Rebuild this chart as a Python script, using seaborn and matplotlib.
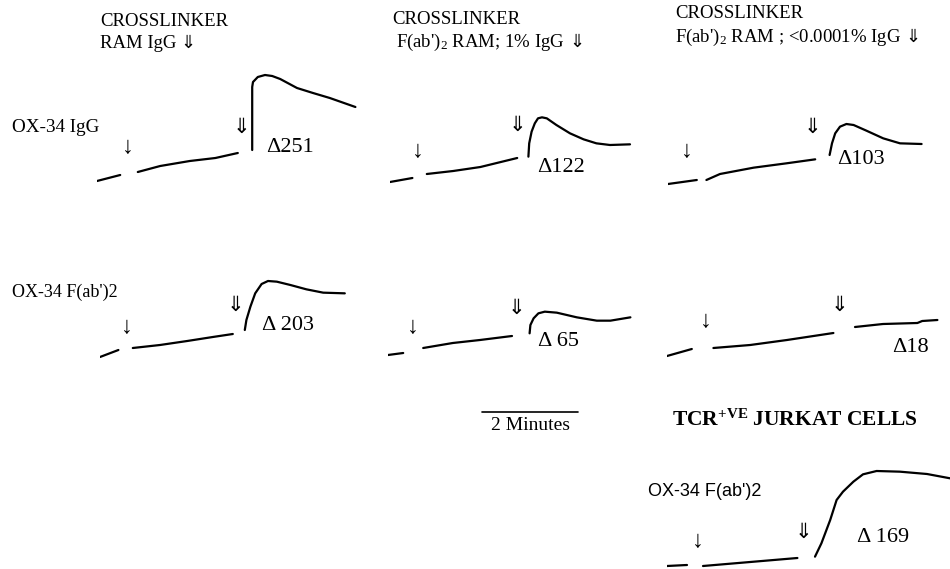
import matplotlib
matplotlib.use("Agg")
import matplotlib.pyplot as plt
import pandas as pd
import seaborn as sns

# ---------------- data (time in s, Ca signal in nM above start) ----------------
# Panel 1: OX-34 IgG, crosslinker RAM IgG
p1_t_pre = [0, 29];                      p1_s_pre = [0, 18]
p1_t_base = [51, 79, 116, 148, 176];     p1_s_base = [27, 45, 60, 69, 84]
p1_t_resp = [194, 194, 195, 201, 210, 219, 229, 250, 270, 291, 323]
p1_s_resp = [93, 282, 297, 312, 318, 315, 306, 279, 264, 249, 222]

# Panel 2: OX-34 IgG, crosslinker F(ab')2 RAM; 1% IgG
p2_t_pre = [0, 28];                      p2_s_pre = [0, 12]
p2_t_base = [46, 79, 113, 159];          p2_s_base = [24, 33, 45, 72]
p2_t_resp = [173, 174, 177, 181, 185, 190, 196, 208, 225, 242, 258, 275, 300]
p2_s_resp = [76, 116, 151, 176, 191, 194, 191, 171, 146, 128, 116, 111, 113]

# Panel 3: OX-34 IgG, crosslinker F(ab')2 RAM; <0.0001% IgG
p3_t_pre = [0, 36];                      p3_s_pre = [0, 12]
p3_t_base = [48, 65, 107, 148, 184];     p3_s_base = [12, 30, 49, 62, 74]
p3_t_resp = [202, 205, 209, 215, 223, 232, 248, 269, 290, 317]
p3_s_resp = [87, 122, 152, 172, 180, 177, 160, 137, 122, 120]

# Panel 4: OX-34 F(ab')2, crosslinker RAM IgG
p4_t_pre = [0, 23];                      p4_s_pre = [0, 21]
p4_t_base = [41, 75, 109, 141, 166];     p4_s_base = [27, 36, 48, 60, 69]
p4_t_resp = [181, 183, 188, 194, 202, 210, 221, 238, 258, 279, 306]
p4_s_resp = [81, 111, 151, 191, 219, 228, 226, 216, 203, 193, 191]

# Panel 5: OX-34 F(ab')2, crosslinker F(ab')2 RAM; 1% IgG
p5_t_pre = [0, 19];                      p5_s_pre = [0, 6]
p5_t_base = [44, 81, 115, 155];          p5_s_base = [21, 36, 45, 57]
p5_t_resp = [177, 178, 182, 188, 196, 211, 236, 261, 278, 303]
p5_s_resp = [65, 90, 110, 125, 130, 127, 113, 103, 103, 113]

# Panel 6: OX-34 F(ab')2, crosslinker F(ab')2 RAM; <0.0001% IgG
p6_t_pre = [0, 31];                      p6_s_pre = [0, 21]
p6_t_base = [58, 104, 150, 208];         p6_s_base = [24, 33, 48, 69]
p6_t_resp = [235, 270, 313, 319, 338]
p6_s_resp = [87, 96, 99, 105, 108]

# Panel 7: TCR+ Jurkat cells, OX-34 F(ab')2
p7_t_pre = [0, 25];                      p7_s_pre = [0, 3]
p7_t_base = [45, 104, 163];              p7_s_base = [0, 12, 24]
p7_t_resp = [185, 193, 204, 212, 220, 233, 245, 262, 291, 325, 354]
p7_s_resp = [28, 68, 138, 198, 223, 253, 275, 285, 283, 276, 263]

deltas = ["Δ251", "Δ122", "Δ103", "Δ 203", "Δ 65", "Δ18", "Δ 169"]
# antibody addition (single arrow) and crosslinker addition (double arrow)
ab_arrow_t = [39, 35, 24, 34, 31, 48, 39]
ab_arrow_s = [99, 90, 96, 90, 84, 102, 72]
xl_arrow_t = [181, 159, 180, 169, 161, 216, 170]
xl_arrow_s = [162, 171, 171, 156, 141, 153, 102]
delta_t = [212, 184, 212, 202, 187, 281, 237]
delta_s = [102, 45, 72, 96, 39, 24, 84]

crosslinkers = ["RAM IgG", "F(ab')$_2$ RAM; 1% IgG", "F(ab')$_2$ RAM ; <0.0001% IgG"]
row_labels = ["OX-34 IgG", "OX-34 F(ab')2"]
scale_bar_start = 118   # s
scale_bar_len = 120     # s (2 minutes)

traces = [
    (p1_t_pre, p1_s_pre, p1_t_base, p1_s_base, p1_t_resp, p1_s_resp),
    (p2_t_pre, p2_s_pre, p2_t_base, p2_s_base, p2_t_resp, p2_s_resp),
    (p3_t_pre, p3_s_pre, p3_t_base, p3_s_base, p3_t_resp, p3_s_resp),
    (p4_t_pre, p4_s_pre, p4_t_base, p4_s_base, p4_t_resp, p4_s_resp),
    (p5_t_pre, p5_s_pre, p5_t_base, p5_s_base, p5_t_resp, p5_s_resp),
    (p6_t_pre, p6_s_pre, p6_t_base, p6_s_base, p6_t_resp, p6_s_resp),
    (p7_t_pre, p7_s_pre, p7_t_base, p7_s_base, p7_t_resp, p7_s_resp),
]

# ---------------- layout ----------------
FW, FH = 950, 569
panel_origin_px = [(97, 181), (390, 182), (668, 184),
                   (100, 357), (388, 355), (667, 356),
                   (667, 566)]
S_PER_PX = 1.25
NM_PER_PX = 3.0
AX_W_PX, AX_H_PX, AX_BELOW_PX = 300, 140, 10

sns.set_theme(style="white")
plt.rcParams["font.family"] = ["Liberation Serif", "DejaVu Sans"]
plt.rcParams["text.color"] = "black"
plt.rcParams["mathtext.fontset"] = "custom"
plt.rcParams["mathtext.rm"] = "Liberation Serif"
plt.rcParams["mathtext.it"] = "Liberation Serif:italic"
plt.rcParams["mathtext.bf"] = "Liberation Serif:bold"

fig = plt.figure(figsize=(FW / 100, FH / 100), dpi=100)
fig.patch.set_facecolor("white")

def fx(px):
    return px / FW

def fy(py):
    return 1 - py / FH

axes = []
for i, (x0, y0) in enumerate(panel_origin_px):
    ax = fig.add_axes([fx(x0), fy(y0 + AX_BELOW_PX), AX_W_PX / FW, AX_H_PX / FH])
    ax.set_xlim(0, AX_W_PX * S_PER_PX)
    ax.set_ylim(-AX_BELOW_PX * NM_PER_PX, (AX_H_PX - AX_BELOW_PX) * NM_PER_PX)
    ax.patch.set_alpha(0)
    t_pre, s_pre, t_base, s_base, t_resp, s_resp = traces[i]
    df = pd.DataFrame({
        "time": t_pre + t_base + t_resp,
        "signal": s_pre + s_base + s_resp,
        "segment": ["pre"] * len(t_pre) + ["base"] * len(t_base) + ["resp"] * len(t_resp),
    })
    sns.lineplot(data=df, x="time", y="signal", units="segment", estimator=None,
                 sort=False, color="black", lw=1.6, ax=ax, legend=False)
    ax.set_axis_off()
    ax.text(ab_arrow_t[i], ab_arrow_s[i], "↓", ha="center", va="center",
            fontsize=17, color="black")
    ax.text(xl_arrow_t[i], xl_arrow_s[i], "⇓", ha="center", va="center",
            fontsize=15, color="black", family=["DejaVu Sans"])
    ax.text(delta_t[i], delta_s[i], deltas[i], ha="left", va="center",
            fontsize=16, color="black")
    axes.append(ax)

# column headers
hdr = [((100, 21), (100, 43)), ((392, 19), (396, 42)), ((675, 14), (675, 37))]
for (p1, p2), xl in zip(hdr, crosslinkers):
    fig.text(fx(p1[0]), fy(p1[1]), "CROSSLINKER", ha="left", va="center", fontsize=13.5)
    t = fig.text(fx(p2[0]), fy(p2[1]), xl, ha="left", va="center", fontsize=13.5)
    axes[0].annotate("⇓", xy=(1, 0.5), xycoords=t, xytext=(3, 0),
                     textcoords="offset points", ha="left", va="center",
                     fontsize=13, family=["DejaVu Sans"], annotation_clip=False)

# row labels
fig.text(fx(12), fy(128), row_labels[0], ha="left", va="center", fontsize=13.8)
fig.text(fx(12), fy(292), row_labels[1], ha="left", va="center", fontsize=13)
fig.text(fx(648), fy(492), row_labels[1], ha="left", va="center", fontsize=13,
         family=["Liberation Sans"])

# scale bar (in panel 5 time units)
ax5 = axes[4]
ax5.plot([scale_bar_start, scale_bar_start + scale_bar_len], [-171, -171],
         color="black", lw=1.2, clip_on=False)
ax5.text(scale_bar_start + scale_bar_len / 2, -210, "2 Minutes", ha="center",
         va="center", fontsize=14, clip_on=False)

# Jurkat header
fig.text(fx(672), fy(420), r"TCR$^{\mathbf{+VE}}$ JURKAT CELLS", ha="left", va="center",
         fontsize=15.5, fontweight="bold")

fig.savefig("out.png", dpi=100, facecolor="white")
